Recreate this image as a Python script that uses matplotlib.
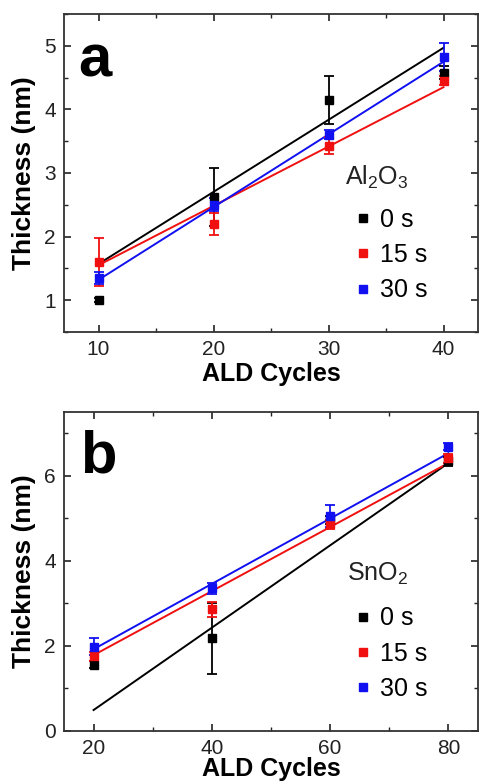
import numpy as np
import matplotlib
matplotlib.use('Agg')
import matplotlib.pyplot as plt
from matplotlib.ticker import MultipleLocator

plt.rcParams['font.family'] = ['Liberation Sans', 'DejaVu Sans']
plt.rcParams['mathtext.default'] = 'regular'

# panel a: Al2O3
cyc_a = [10, 20, 30, 40]
al_0 = [1.00, 2.62, 4.15, 4.58]
al_0_err = [0.03, 0.46, 0.38, 0.10]
al_15 = [1.60, 2.20, 3.43, 4.45]
al_15_err = [0.38, 0.17, 0.13, 0.07]
al_30 = [1.35, 2.50, 3.60, 4.82]
al_30_err = [0.10, 0.10, 0.07, 0.22]
# linear fits (slope, intercept)
al_fit = {'0 s': (0.1133, 0.437), '15 s': (0.0933, 0.617), '30 s': (0.1143, 0.177)}

# panel b: SnO2
cyc_b = [20, 40, 60, 80]
sn_0 = [1.55, 2.17, 4.95, 6.33]
sn_0_err = [0.08, 0.84, 0.10, 0.10]
sn_15 = [1.75, 2.85, 4.85, 6.40]
sn_15_err = [0.10, 0.17, 0.10, 0.10]
sn_30 = [1.97, 3.35, 5.05, 6.68]
sn_30_err = [0.20, 0.13, 0.25, 0.08]
sn_fit = {'0 s': (0.0968, -1.45), '15 s': (0.0753, 0.27), '30 s': (0.0768, 0.38)}

labels = ['0 s', '15 s', '30 s']
colors = ['black', '#f01010', '#1010f0']

W, H = 479, 781
fig = plt.figure(figsize=(W / 100, H / 100), dpi=100)


def px_axes(left, top, right, bottom):
    return fig.add_axes([left / W, 1 - bottom / H, (right - left) / W, (bottom - top) / H])


def panel(ax, x, ys, errs, fits, xlim, ylim, xmaj, xmin, ymaj, ymin,
          letter, letter_pos, title, title_pos, leg_anchor, xpad):
    x = np.array(x)
    xf = np.array([x[0], x[-1]])
    handles = []
    for lab, col in zip(labels, colors):
        m, b = fits[lab]
        ax.plot(xf, m * xf + b, color=col, lw=1.4, zorder=2)
    for lab, col, y, e in zip(labels, colors, ys, errs):
        ax.errorbar(x, y, yerr=e, fmt='none', ecolor=col, elinewidth=1.3,
                    capsize=3.5, capthick=1.3, zorder=3)
        h, = ax.plot(x, y, 's', color=col, ms=6, label=lab, zorder=4)
        handles.append(h)
    ax.set_xlim(*xlim)
    ax.set_ylim(*ylim)
    ax.xaxis.set_major_locator(MultipleLocator(xmaj))
    ax.xaxis.set_minor_locator(MultipleLocator(xmin))
    ax.yaxis.set_major_locator(MultipleLocator(ymaj))
    ax.yaxis.set_minor_locator(MultipleLocator(ymin))
    ax.tick_params(which='both', direction='in', top=True, right=True,
                   labelsize=15, colors='#222222', labelcolor='#222222')
    ax.tick_params(which='major', length=5, width=1.2, pad=6)
    ax.tick_params(which='minor', length=3, width=1.0)
    for s in ax.spines.values():
        s.set_linewidth(1.3)
        s.set_color('#333333')
    ax.set_xlabel('ALD Cycles', fontsize=18, fontweight='bold', labelpad=xpad)
    ax.set_ylabel('Thickness (nm)', fontsize=19, fontweight='bold', labelpad=6)
    ax.text(letter_pos[0], letter_pos[1], letter, transform=ax.transAxes, fontsize=43,
            fontweight='bold', va='baseline', ha='left')
    ax.text(title_pos[0], title_pos[1], title, transform=ax.transAxes, fontsize=18,
            va='baseline', ha='left', color='#222222')
    ax.legend(handles=handles, loc='upper left',
              bbox_to_anchor=leg_anchor, frameon=False, fontsize=18,
              handlelength=0.6, handletextpad=0.4,
              labelspacing=0.45, borderpad=0.0, borderaxespad=0.0, markerscale=0.9)


ax_a = px_axes(64, 14, 478, 332)
panel(ax_a, cyc_a, [al_0, al_15, al_30], [al_0_err, al_15_err, al_30_err], al_fit,
      (7, 43), (0.5, 5.5), 10, 5, 1, 0.5,
      'a', (0.034, 0.802), 'Al$_2$O$_3$', (0.679, 0.462), (0.703, 0.39), 2)

ax_b = px_axes(64, 411.7, 478, 730.7)
panel(ax_b, cyc_b, [sn_0, sn_15, sn_30], [sn_0_err, sn_15_err, sn_30_err], sn_fit,
      (15, 85), (0, 7.5), 20, 10, 2, 1,
      'b', (0.039, 0.808), 'SnO$_2$', (0.684, 0.469), (0.703, 0.39), -1)

fig.savefig('out.png', dpi=100)
